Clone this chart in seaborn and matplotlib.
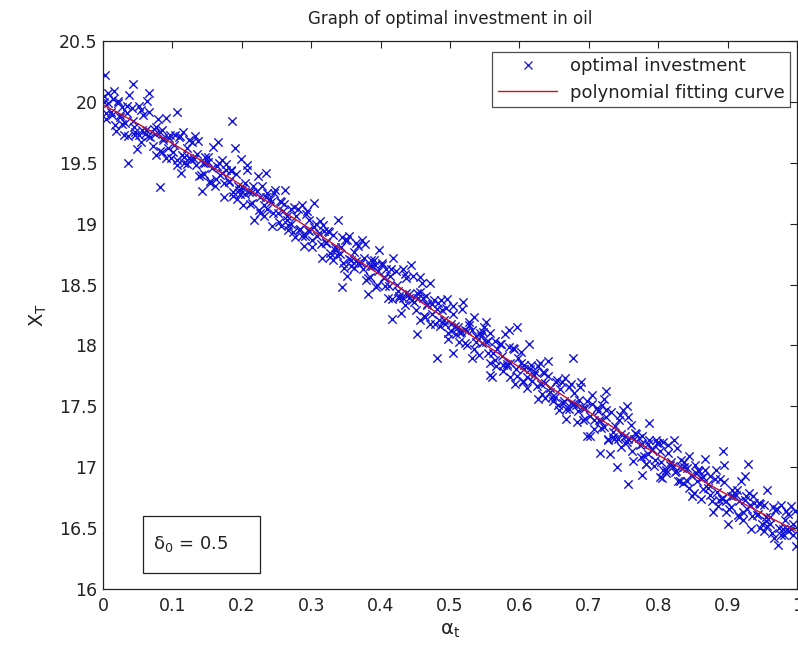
import numpy as np
import pandas as pd
import matplotlib
matplotlib.use("Agg")
import matplotlib.pyplot as plt
import seaborn as sns
from matplotlib.lines import Line2D
from matplotlib.patches import Rectangle

sns.set_theme(style="white")
plt.rcParams['font.family'] = ['DejaVu Sans']
plt.rcParams['mathtext.fontset'] = 'dejavusans'

title = "Graph of optimal investment in oil"
xlabel = r"$\mathrm{\alpha_t}$"
ylabel = r"$\mathrm{X_T}$"
legend_labels = ["optimal investment", "polynomial fitting curve"]
annotation = r"$\mathrm{\delta_0}$ = 0.5"
xticks = [0, 0.1, 0.2, 0.3, 0.4, 0.5, 0.6, 0.7, 0.8, 0.9, 1]
xticklabels = ["0", "0.1", "0.2", "0.3", "0.4", "0.5", "0.6", "0.7", "0.8", "0.9", "1"]
yticks = [16, 16.5, 17, 17.5, 18, 18.5, 19, 19.5, 20, 20.5]
yticklabels = ["16", "16.5", "17", "17.5", "18", "18.5", "19", "19.5", "20", "20.5"]

alpha_t_a = [
    0.001, 0.004, 0.008, 0.013, 0.016, 0.019, 0.022, 0.025, 0.027, 0.031, 0.034, 0.038,
    0.043, 0.046, 0.049, 0.052, 0.055, 0.057, 0.061, 0.064, 0.068, 0.073, 0.076, 0.079,
    0.082, 0.085, 0.087, 0.091, 0.094, 0.098,
    0.103, 0.106, 0.109, 0.112, 0.115, 0.117, 0.121, 0.124, 0.128, 0.133, 0.136, 0.139,
    0.142, 0.145, 0.147, 0.151, 0.154, 0.158, 0.163, 0.166, 0.169, 0.172, 0.175, 0.177,
    0.181, 0.184, 0.188, 0.193, 0.196, 0.199,
    0.202, 0.205, 0.207, 0.211, 0.214, 0.218, 0.223, 0.226, 0.229, 0.232, 0.235, 0.237,
    0.241, 0.244, 0.248, 0.253, 0.256, 0.259, 0.262, 0.265, 0.267, 0.271, 0.274, 0.278,
    0.283, 0.286, 0.289, 0.292, 0.295, 0.297,
    0.301, 0.304, 0.308, 0.313, 0.316, 0.319, 0.322, 0.325, 0.327, 0.331, 0.334, 0.338,
    0.343, 0.346, 0.349, 0.352, 0.355, 0.357, 0.361, 0.364, 0.368, 0.373, 0.376, 0.379,
    0.382, 0.385, 0.387, 0.391, 0.394, 0.398,
    0.402, 0.405, 0.407, 0.411, 0.414, 0.418, 0.423, 0.426, 0.429, 0.432, 0.435, 0.437,
    0.441, 0.444, 0.448, 0.453, 0.456, 0.459, 0.462, 0.465, 0.467, 0.471, 0.474, 0.478,
    0.483, 0.486, 0.489, 0.492, 0.495, 0.497,
    0.501, 0.504, 0.508, 0.513, 0.516, 0.519, 0.522, 0.525, 0.527, 0.531, 0.534, 0.538,
    0.543, 0.546, 0.549, 0.552, 0.555, 0.557, 0.561, 0.564, 0.568, 0.573, 0.576, 0.579,
    0.582, 0.585, 0.587, 0.591, 0.594, 0.598,
    0.602, 0.605, 0.607, 0.611, 0.614, 0.618, 0.623, 0.626, 0.629, 0.632, 0.635, 0.637,
    0.641, 0.644, 0.648, 0.653, 0.656, 0.659, 0.662, 0.665, 0.667, 0.671, 0.674, 0.678,
    0.683, 0.686, 0.689, 0.692, 0.695, 0.697,
    0.701, 0.704, 0.708, 0.713, 0.716, 0.719, 0.722, 0.725, 0.727, 0.731, 0.734, 0.738,
    0.743, 0.746, 0.749, 0.752, 0.755, 0.757, 0.761, 0.764, 0.768, 0.773, 0.776, 0.779,
    0.782, 0.785, 0.787, 0.791, 0.794, 0.798,
    0.802, 0.805, 0.807, 0.811, 0.814, 0.818, 0.823, 0.826, 0.829, 0.832, 0.835, 0.837,
    0.841, 0.844, 0.848, 0.853, 0.856, 0.859, 0.862, 0.865, 0.867, 0.871, 0.874, 0.878,
    0.883, 0.886, 0.889, 0.892, 0.895, 0.897,
    0.901, 0.904, 0.908, 0.913, 0.916, 0.919, 0.922, 0.925, 0.927, 0.931, 0.934, 0.938,
    0.943, 0.946, 0.949, 0.952, 0.955, 0.957, 0.961, 0.964, 0.968, 0.973, 0.976, 0.979,
    0.982, 0.985, 0.987, 0.991, 0.994, 0.998,
    0.003, 0.043, 0.066, 0.106, 0.186, 0.190, 0.036, 0.082, 0.344, 0.416, 0.452, 0.457,
    0.481, 0.504, 0.558, 0.596, 0.677, 0.716, 0.725, 0.741, 0.756, 0.777, 0.803, 0.893,
    0.929,
]

x_T_a = [
    20.05, 19.86, 19.99, 19.89, 20.09, 19.76, 20.01, 19.88, 19.96, 19.73, 19.91, 20.06,
    19.84, 19.75, 19.61, 19.97, 19.67, 19.89, 19.74, 20.01, 19.71, 19.78, 19.56, 19.86,
    19.60, 19.77, 19.69, 19.87, 19.62, 19.54,
    19.65, 19.52, 19.71, 19.42, 19.75, 19.55, 19.62, 19.54, 19.67, 19.72, 19.57, 19.39,
    19.27, 19.41, 19.50, 19.55, 19.33, 19.63, 19.37, 19.67, 19.40, 19.52, 19.22, 19.44,
    19.35, 19.43, 19.26, 19.20, 19.28, 19.53,
    19.15, 19.33, 19.48, 19.26, 19.17, 19.03, 19.39, 19.09, 19.31, 19.15, 19.42, 19.12,
    19.20, 18.98, 19.28, 19.01, 19.18, 19.10, 19.28, 19.03, 18.95, 19.12, 18.93, 19.06,
    18.95, 19.15, 18.82, 19.08, 18.95, 19.03,
    18.87, 19.17, 18.90, 19.02, 18.72, 18.94, 18.85, 18.93, 18.76, 18.70, 18.78, 19.03,
    18.81, 18.68, 18.87, 18.57, 18.90, 18.70, 18.77, 18.69, 18.82, 18.87, 18.72, 18.54,
    18.42, 18.56, 18.65, 18.70, 18.48, 18.78,
    18.68, 18.55, 18.63, 18.39, 18.57, 18.72, 18.50, 18.41, 18.27, 18.63, 18.33, 18.55,
    18.39, 18.66, 18.36, 18.43, 18.21, 18.51, 18.24, 18.41, 18.33, 18.51, 18.26, 18.18,
    18.35, 18.16, 18.29, 18.18, 18.38, 18.05,
    18.18, 18.26, 18.09, 18.03, 18.11, 18.36, 18.13, 18.00, 18.19, 17.90, 18.23, 18.03,
    18.10, 18.02, 18.15, 18.19, 18.04, 17.86, 17.74, 17.88, 17.97, 18.01, 17.79, 18.09,
    17.83, 18.13, 17.86, 17.98, 17.68, 17.90,
    17.95, 17.71, 17.84, 17.74, 18.01, 17.71, 17.78, 17.56, 17.86, 17.60, 17.77, 17.69,
    17.87, 17.62, 17.54, 17.70, 17.51, 17.64, 17.53, 17.73, 17.40, 17.66, 17.53, 17.61,
    17.37, 17.55, 17.70, 17.49, 17.40, 17.26,
    17.26, 17.59, 17.39, 17.46, 17.38, 17.51, 17.56, 17.41, 17.23, 17.11, 17.25, 17.34,
    17.39, 17.17, 17.47, 17.20, 17.50, 17.23, 17.35, 17.05, 17.27, 17.18, 17.26, 17.09,
    17.03, 17.11, 17.36, 17.14, 17.01, 17.20,
    17.13, 16.91, 17.21, 16.95, 17.12, 17.04, 17.22, 16.97, 16.89, 17.06, 16.87, 17.00,
    16.89, 17.09, 16.76, 17.02, 16.89, 16.97, 16.74, 16.92, 17.07, 16.86, 16.77, 16.63,
    16.98, 16.68, 16.90, 16.75, 17.02, 16.72,
    16.53, 16.67, 16.76, 16.81, 16.59, 16.89, 16.63, 16.93, 16.66, 16.79, 16.49, 16.71,
    16.62, 16.70, 16.53, 16.48, 16.56, 16.81, 16.59, 16.46, 16.65, 16.36, 16.69, 16.49,
    16.57, 16.49, 16.62, 16.68, 16.53, 16.35,
    20.22, 20.15, 20.07, 19.92, 19.84, 19.62, 19.50, 19.30, 18.48, 18.22, 18.09, 18.56,
    17.90, 17.94, 17.76, 18.15, 17.90, 17.12, 17.63, 17.00, 16.86, 16.94, 16.92, 17.13,
    17.03,
]

alpha_t_b = [
    0.0015, 0.0045, 0.0068, 0.0115, 0.0145, 0.0168, 0.0215, 0.0245, 0.0268, 0.0315, 0.0345, 0.0368,
    0.0415, 0.0445, 0.0468, 0.0515, 0.0545, 0.0568, 0.0615, 0.0645, 0.0668, 0.0715, 0.0745, 0.0768,
    0.0815, 0.0845, 0.0868, 0.0915, 0.0945, 0.0968,
    0.1015, 0.1045, 0.1068, 0.1115, 0.1145, 0.1168, 0.1215, 0.1245, 0.1268, 0.1315, 0.1345, 0.1368,
    0.1415, 0.1445, 0.1468, 0.1515, 0.1545, 0.1568, 0.1615, 0.1645, 0.1668, 0.1715, 0.1745, 0.1768,
    0.1815, 0.1845, 0.1868, 0.1915, 0.1945, 0.1968,
    0.2015, 0.2045, 0.2068, 0.2115, 0.2145, 0.2168, 0.2215, 0.2245, 0.2268, 0.2315, 0.2345, 0.2368,
    0.2415, 0.2445, 0.2468, 0.2515, 0.2545, 0.2568, 0.2615, 0.2645, 0.2668, 0.2715, 0.2745, 0.2768,
    0.2815, 0.2845, 0.2868, 0.2915, 0.2945, 0.2968,
    0.3015, 0.3045, 0.3068, 0.3115, 0.3145, 0.3168, 0.3215, 0.3245, 0.3268, 0.3315, 0.3345, 0.3368,
    0.3415, 0.3445, 0.3468, 0.3515, 0.3545, 0.3568, 0.3615, 0.3645, 0.3668, 0.3715, 0.3745, 0.3768,
    0.3815, 0.3845, 0.3868, 0.3915, 0.3945, 0.3968,
    0.4015, 0.4045, 0.4068, 0.4115, 0.4145, 0.4168, 0.4215, 0.4245, 0.4268, 0.4315, 0.4345, 0.4368,
    0.4415, 0.4445, 0.4468, 0.4515, 0.4545, 0.4568, 0.4615, 0.4645, 0.4668, 0.4715, 0.4745, 0.4768,
    0.4815, 0.4845, 0.4868, 0.4915, 0.4945, 0.4968,
    0.5015, 0.5045, 0.5068, 0.5115, 0.5145, 0.5168, 0.5215, 0.5245, 0.5268, 0.5315, 0.5345, 0.5368,
    0.5415, 0.5445, 0.5468, 0.5515, 0.5545, 0.5568, 0.5615, 0.5645, 0.5668, 0.5715, 0.5745, 0.5768,
    0.5815, 0.5845, 0.5868, 0.5915, 0.5945, 0.5968,
    0.6015, 0.6045, 0.6068, 0.6115, 0.6145, 0.6168, 0.6215, 0.6245, 0.6268, 0.6315, 0.6345, 0.6368,
    0.6415, 0.6445, 0.6468, 0.6515, 0.6545, 0.6568, 0.6615, 0.6645, 0.6668, 0.6715, 0.6745, 0.6768,
    0.6815, 0.6845, 0.6868, 0.6915, 0.6945, 0.6968,
    0.7015, 0.7045, 0.7068, 0.7115, 0.7145, 0.7168, 0.7215, 0.7245, 0.7268, 0.7315, 0.7345, 0.7368,
    0.7415, 0.7445, 0.7468, 0.7515, 0.7545, 0.7568, 0.7615, 0.7645, 0.7668, 0.7715, 0.7745, 0.7768,
    0.7815, 0.7845, 0.7868, 0.7915, 0.7945, 0.7968,
    0.8015, 0.8045, 0.8068, 0.8115, 0.8145, 0.8168, 0.8215, 0.8245, 0.8268, 0.8315, 0.8345, 0.8368,
    0.8415, 0.8445, 0.8468, 0.8515, 0.8545, 0.8568, 0.8615, 0.8645, 0.8668, 0.8715, 0.8745, 0.8768,
    0.8815, 0.8845, 0.8868, 0.8915, 0.8945, 0.8968,
    0.9015, 0.9045, 0.9068, 0.9115, 0.9145, 0.9168, 0.9215, 0.9245, 0.9268, 0.9315, 0.9345, 0.9368,
    0.9415, 0.9445, 0.9468, 0.9515, 0.9545, 0.9568, 0.9615, 0.9645, 0.9668, 0.9715, 0.9745, 0.9768,
    0.9815, 0.9845, 0.9868, 0.9915, 0.9945, 0.9968,
]

x_T_b = [
    20.00, 19.91, 20.07, 19.92, 20.02, 19.81, 19.99, 19.89, 19.82, 19.83, 19.97, 19.72,
    19.95, 19.79, 19.73, 19.73, 19.93, 19.77, 19.77, 19.72, 19.92, 19.64, 19.74, 19.79,
    19.75, 19.59, 19.70, 19.54, 19.70, 19.73,
    19.59, 19.73, 19.48, 19.72, 19.56, 19.50, 19.49, 19.69, 19.53, 19.53, 19.48, 19.68,
    19.40, 19.50, 19.55, 19.51, 19.35, 19.46, 19.31, 19.47, 19.50, 19.42, 19.33, 19.49,
    19.34, 19.44, 19.23, 19.41, 19.31, 19.24,
    19.29, 19.24, 19.44, 19.16, 19.26, 19.31, 19.27, 19.11, 19.22, 19.06, 19.22, 19.25,
    19.18, 19.09, 19.25, 19.09, 19.19, 18.98, 19.16, 19.06, 18.99, 19.00, 19.14, 18.89,
    19.12, 18.96, 18.90, 18.90, 19.10, 18.94,
    18.81, 18.97, 19.00, 18.92, 18.83, 18.99, 18.84, 18.94, 18.73, 18.91, 18.81, 18.74,
    18.75, 18.89, 18.64, 18.87, 18.71, 18.65, 18.64, 18.84, 18.68, 18.68, 18.63, 18.83,
    18.55, 18.65, 18.70, 18.66, 18.50, 18.61,
    18.66, 18.56, 18.49, 18.49, 18.63, 18.38, 18.61, 18.45, 18.39, 18.39, 18.59, 18.43,
    18.42, 18.37, 18.57, 18.29, 18.39, 18.44, 18.39, 18.23, 18.34, 18.18, 18.34, 18.37,
    18.30, 18.21, 18.37, 18.21, 18.31, 18.10,
    18.12, 18.32, 18.16, 18.15, 18.10, 18.30, 18.02, 18.12, 18.17, 18.13, 17.97, 18.08,
    17.92, 18.08, 18.11, 18.03, 17.94, 18.10, 17.94, 18.04, 17.83, 18.01, 17.91, 17.84,
    17.85, 17.99, 17.74, 17.97, 17.81, 17.75,
    17.86, 17.70, 17.81, 17.65, 17.81, 17.84, 17.76, 17.67, 17.83, 17.68, 17.78, 17.57,
    17.75, 17.65, 17.58, 17.58, 17.72, 17.47, 17.70, 17.54, 17.48, 17.48, 17.68, 17.52,
    17.51, 17.46, 17.66, 17.39, 17.49, 17.54,
    17.42, 17.52, 17.31, 17.49, 17.39, 17.32, 17.33, 17.47, 17.22, 17.45, 17.29, 17.23,
    17.23, 17.43, 17.27, 17.26, 17.21, 17.41, 17.13, 17.23, 17.28, 17.24, 17.08, 17.19,
    17.03, 17.19, 17.22, 17.15, 17.06, 17.22,
    17.20, 17.04, 16.98, 16.98, 17.18, 17.02, 17.01, 16.96, 17.16, 16.89, 16.99, 17.04,
    16.99, 16.83, 16.94, 16.79, 16.95, 16.98, 16.91, 16.82, 16.98, 16.83, 16.93, 16.72,
    16.90, 16.80, 16.73, 16.74, 16.88, 16.63,
    16.66, 16.76, 16.81, 16.77, 16.61, 16.72, 16.57, 16.73, 16.76, 16.69, 16.60, 16.76,
    16.61, 16.71, 16.50, 16.69, 16.59, 16.52, 16.53, 16.67, 16.42, 16.66, 16.50, 16.44,
    16.44, 16.64, 16.48, 16.49, 16.44, 16.64,
]

df = pd.DataFrame({"alpha_t": alpha_t_a + alpha_t_b, "X_T": x_T_a + x_T_b})

fig = plt.figure(figsize=(7.98, 6.56), dpi=100)
ax = fig.add_axes([0.129, 0.1021, 0.870, 0.8354])

blue = "#1414d8"
red = "#d0102a"
ink = "#222222"

sns.scatterplot(data=df, x="alpha_t", y="X_T", marker="x", color=blue,
                s=36, linewidth=1.0, ax=ax, legend=False, zorder=2)
sns.regplot(data=df, x="alpha_t", y="X_T", order=3, scatter=False, ci=None,
            truncate=True, line_kws={"color": red, "linewidth": 1.0, "zorder": 3},
            ax=ax)

ax.set_xlim(0, 1)
ax.set_ylim(16, 20.5)
ax.set_xticks(xticks)
ax.set_xticklabels(xticklabels)
ax.set_yticks(yticks)
ax.set_yticklabels(yticklabels)
ax.tick_params(axis="both", direction="in", length=5, width=0.8, labelsize=12.5,
               colors=ink, top=True, right=True)
ax.tick_params(axis="y", pad=4)
ax.tick_params(axis="x", pad=6)
for sp in ax.spines.values():
    sp.set_visible(True)
    sp.set_color(ink)
    sp.set_linewidth(0.9)

ax.set_title(title, fontsize=12, color=ink, pad=12)
ax.set_xlabel(xlabel, fontsize=14, color=ink, labelpad=4)
ax.set_ylabel(ylabel, fontsize=14, color=ink, labelpad=7)

handles = [
    Line2D([], [], marker="x", linestyle="none", color=blue, markersize=6,
           markeredgewidth=0.9),
    Line2D([], [], color=red, linewidth=1.0),
]
leg = ax.legend(handles, legend_labels, loc="upper right", fontsize=13,
                frameon=True, fancybox=False, edgecolor=ink,
                bbox_to_anchor=(0.990, 0.980), borderpad=0.3, handlelength=3.3,
                handletextpad=0.7, labelspacing=0.45, borderaxespad=0)
leg.get_frame().set_linewidth(0.9)
leg.get_frame().set_facecolor("white")
for t in leg.get_texts():
    t.set_color(ink)

ax.add_patch(Rectangle((0.0576, 0.0292), 0.1686, 0.104, transform=ax.transAxes,
                       facecolor="white", edgecolor=ink, linewidth=0.9, zorder=5))
ax.text(0.072, 0.082, annotation, transform=ax.transAxes, fontsize=13,
        color=ink, va="center", ha="left", zorder=6)

fig.savefig("out.png", dpi=100)
